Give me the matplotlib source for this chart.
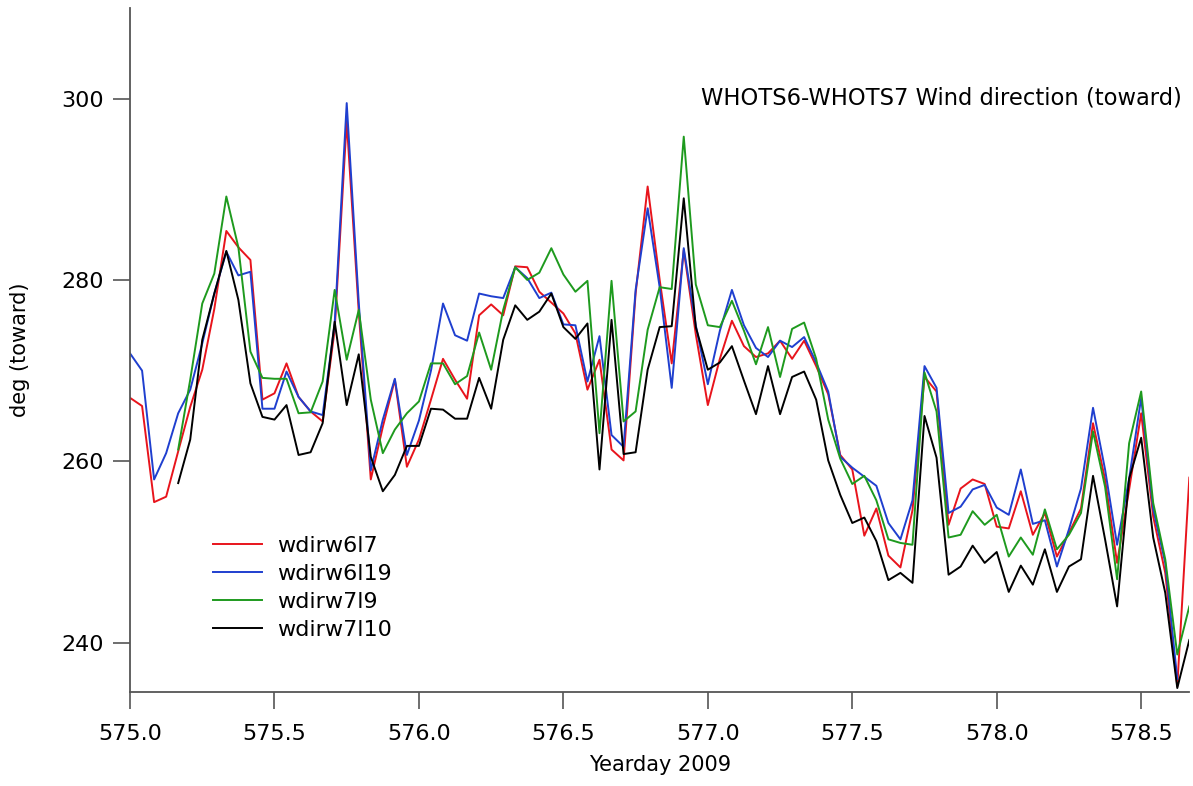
import numpy as np
import matplotlib
matplotlib.use("Agg")
import matplotlib.pyplot as plt

nan = np.nan

# hourly samples starting at yearday 575.0
start_day = 575.0
n_hours = 89

wdirw6l7 = [267.0, 266.1, 255.5, 256.1, 261.1, 266.0, 270.1, 276.8, 285.4, 283.6,
            282.2, 266.8, 267.5, 270.8, 267.1, 265.5, 264.4, 274.5, 297.5, 276.5,
            258.0, 263.8, 269.0, 259.4, 262.4, 266.8, 271.3, 269.0, 266.9, 276.1,
            277.3, 276.1, 281.5, 281.4, 278.7, 277.5, 276.3, 274.1, 267.9, 271.2,
            261.3, 260.1, 278.5, 290.3, 280.0, 270.8, 283.3, 274.0, 266.2, 271.3,
            275.5, 272.7, 271.5, 271.9, 273.3, 271.3, 273.3, 270.5, 267.4, 260.7,
            259.1, 251.8, 254.8, 249.6, 248.3, 254.6, 269.3, 267.7, 253.0, 257.0,
            258.0, 257.5, 252.8, 252.6, 256.7, 251.9, 254.3, 249.5, 252.1, 254.8,
            264.2, 258.0, 248.8, 256.9, 265.3, 253.9, 247.7, 235.2, 258.2]

wdirw6l19 = [271.9, 270.0, 258.0, 260.9, 265.3, 267.9, 273.0, 278.5, 283.1, 280.5,
             280.9, 265.8, 265.8, 269.9, 267.1, 265.5, 265.1, 275.2, 299.5, 277.5,
             259.0, 264.6, 269.1, 260.7, 264.5, 270.0, 277.4, 273.9, 273.3, 278.5,
             278.2, 278.0, 281.4, 280.2, 278.0, 278.6, 275.1, 275.0, 268.8, 273.8,
             262.9, 261.6, 278.9, 287.9, 279.2, 268.1, 283.5, 275.0, 268.5, 274.4,
             278.9, 275.0, 272.5, 271.5, 273.3, 272.6, 273.7, 270.9, 267.7, 260.5,
             259.3, 258.3, 257.3, 253.2, 251.4, 255.7, 270.5, 268.1, 254.3, 255.0,
             256.9, 257.4, 254.9, 254.1, 259.1, 253.1, 253.5, 248.4, 252.5, 257.0,
             265.9, 259.1, 250.8, 258.1, 267.0, 254.7, 248.8, 236.0, nan]

wdirw7l9 = [nan, nan, nan, nan, 261.3, 269.0, 277.4, 280.7, 289.2, 283.6,
            272.1, 269.2, 269.1, 269.1, 265.3, 265.4, 268.8, 278.9, 271.2, 276.7,
            266.8, 260.9, 263.5, 265.3, 266.6, 270.8, 270.8, 268.5, 269.4, 274.2,
            270.1, 276.7, 281.4, 280.0, 280.8, 283.5, 280.6, 278.7, 279.9, 263.1,
            279.9, 264.4, 265.5, 274.5, 279.2, 279.0, 295.8, 279.5, 275.0, 274.8,
            277.7, 274.4, 270.7, 274.8, 269.3, 274.6, 275.3, 271.3, 264.6, 260.3,
            257.5, 258.4, 255.7, 251.4, 251.0, 250.8, 269.8, 265.5, 251.6, 251.9,
            254.5, 253.0, 254.1, 249.5, 251.6, 249.7, 254.7, 250.3, 251.9, 254.3,
            263.3, 257.2, 247.0, 262.0, 267.7, 255.4, 249.2, 238.7, 244.0]

wdirw7l10 = [nan, nan, nan, nan, 257.6, 262.4, 273.4, 278.5, 283.2, 277.8,
             268.6, 264.9, 264.6, 266.2, 260.7, 261.0, 264.2, 275.4, 266.2, 271.8,
             260.5, 256.7, 258.5, 261.7, 261.7, 265.8, 265.7, 264.7, 264.7, 269.2,
             265.8, 273.4, 277.2, 275.6, 276.5, 278.5, 274.8, 273.5, 275.2, 259.1,
             275.6, 260.8, 261.0, 270.1, 274.8, 274.9, 289.0, 274.8, 270.1, 270.9,
             272.7, 268.9, 265.2, 270.5, 265.2, 269.3, 269.9, 266.8, 260.1, 256.3,
             253.2, 253.8, 251.2, 246.9, 247.7, 246.6, 265.0, 260.4, 247.5, 248.4,
             250.7, 248.8, 250.0, 245.6, 248.5, 246.4, 250.3, 245.6, 248.4, 249.2,
             258.4, 251.4, 244.0, 258.1, 262.6, 251.6, 245.5, 235.0, 240.3]

days = start_day + np.arange(n_hours) / 24.0

series = [("wdirw6l7", wdirw6l7, "#e8141c"),
          ("wdirw6l19", wdirw6l19, "#1f3fcf"),
          ("wdirw7l9", wdirw7l9, "#1e9a1e"),
          ("wdirw7l10", wdirw7l10, "black")]

plt.rcParams['font.family'] = ['DejaVu Sans']

fig = plt.figure(figsize=(11.93, 7.86), dpi=100)
ax = fig.add_axes([0.109, 0.12, 0.888, 0.87])

for name, vals, col in series:
    ax.plot(days, vals, color=col, lw=1.4, label=name)

ax.set_xlim(575.0, 578.667)
ax.set_ylim(234.6, 310.0)
ax.set_xticks([575.0, 575.5, 576.0, 576.5, 577.0, 577.5, 578.0, 578.5])
ax.set_xticklabels(["575.0", "575.5", "576.0", "576.5", "577.0", "577.5", "578.0", "578.5"])
ax.set_yticks([240, 260, 280, 300])

for s in ["top", "right"]:
    ax.spines[s].set_visible(False)
for s in ["left", "bottom"]:
    ax.spines[s].set_color("#555555")
    ax.spines[s].set_linewidth(1.3)

ax.tick_params(direction="out", length=12, width=1.2, color="#555555",
               labelsize=16)
ax.tick_params(axis="x", pad=11)
ax.tick_params(axis="y", pad=7)

ax.set_xlabel("Yearday 2009", fontsize=15, labelpad=8)
ax.set_ylabel("deg (toward)", fontsize=15, labelpad=22)

ax.text(0.993, 0.868, "WHOTS6-WHOTS7 Wind direction (toward)", transform=ax.transAxes,
        ha="right", va="center", fontsize=16.3)

ax.legend(loc="upper left", bbox_to_anchor=(0.078, 0.228), frameon=False,
          fontsize=16, handlelength=2.2, handletextpad=0.7, labelspacing=0.36,
          borderaxespad=0, borderpad=0)

fig.savefig("out.png", dpi=100)
